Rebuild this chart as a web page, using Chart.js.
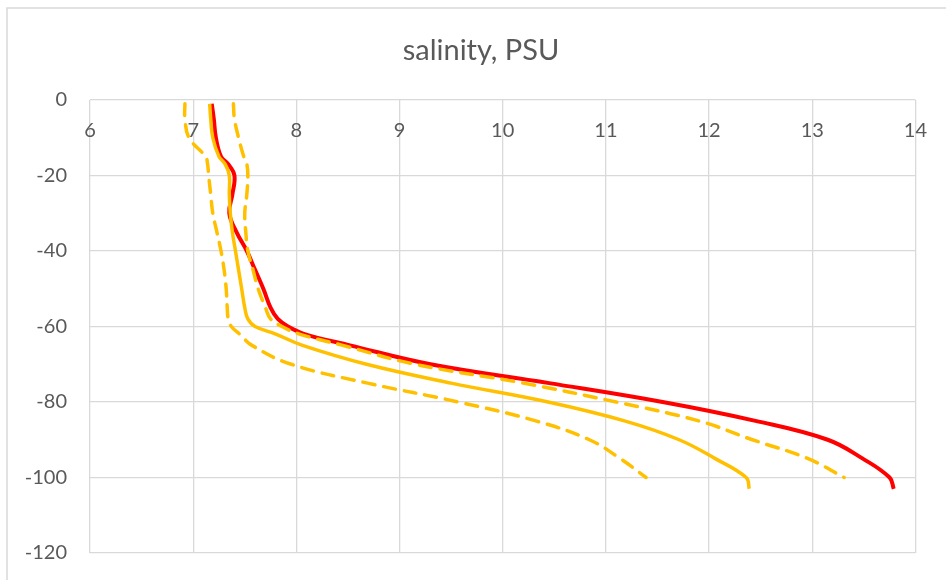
<!DOCTYPE html>
<html>
<head>
<meta charset="utf-8">
<script src="https://cdn.jsdelivr.net/npm/chart.js@4/dist/chart.umd.min.js"></script>
<style>
  html, body { margin: 0; padding: 0; background: #fff; }
  #wrap { width: 946px; height: 580px; }
</style>
</head>
<body>
<div id="wrap"><canvas id="myChart" width="946" height="580"></canvas></div>
<script>
// depth levels (m, negative downwards)
var depths = [-1, -5, -10, -15, -17, -20, -25, -30, -35, -40, -45, -50, -55, -58, -60, -62, -65, -70, -75, -80, -85, -90, -95, -100, -103];

// salinity (PSU) at each depth; null = no value
var salRed    = [7.18, 7.20, 7.22, 7.27, 7.34, 7.40, 7.38, 7.35, 7.42, 7.52, 7.60, 7.68, 7.75, 7.82, 7.92, 8.08, 8.52, 9.30, 10.45, 11.55, 12.45, 13.15, 13.49, 13.75, 13.79];
var salMean   = [7.16, 7.17, 7.19, 7.25, 7.31, 7.35, 7.35, 7.36, 7.38, 7.41, 7.44, 7.47, 7.50, 7.53, 7.60, 7.80, 8.06, 8.68, 9.50, 10.44, 11.18, 11.71, 12.06, 12.36, 12.39];
var salMin    = [6.92, 6.92, 6.96, 7.12, 7.14, 7.15, 7.17, 7.19, 7.23, 7.27, 7.30, 7.32, 7.33, 7.34, 7.37, 7.45, 7.57, 7.95, 8.69, 9.57, 10.32, 10.84, 11.14, 11.39, null];
var salMax    = [7.39, 7.40, 7.44, 7.49, 7.52, 7.53, 7.52, 7.50, 7.51, 7.53, 7.58, 7.63, 7.70, 7.75, 7.86, 8.03, 8.45, 9.15, 10.20, 11.10, 11.90, 12.42, 12.96, 13.31, null];

var xTicks = [6, 7, 8, 9, 10, 11, 12, 13, 14];
var yTicks = [0, -20, -40, -60, -80, -100, -120];

function toPoints(sal) {
  var pts = [];
  for (var i = 0; i < depths.length; i++) {
    if (sal[i] !== null) pts.push({x: sal[i], y: depths[i]});
  }
  return pts;
}

var textColor = '#595959';
var gridColor = '#d9d9d9';
var fontFam = 'Lato, "Open Sans", sans-serif';

// light frame around the chart (left and top edges are visible)
var framePlugin = {
  id: 'frame',
  beforeDraw: function (chart) {
    var c = chart.ctx;
    c.save();
    c.strokeStyle = gridColor;
    c.lineWidth = 1.5;
    c.beginPath();
    c.moveTo(7, chart.height);
    c.lineTo(7, 8);
    c.lineTo(chart.width, 8);
    c.stroke();
    c.restore();
  }
};

var ctx = document.getElementById('myChart').getContext('2d');
var chart = new Chart(ctx, {
    type: 'scatter',
    data: {
        datasets: [{
            label: 'max',
            data: toPoints(salMax),
            showLine: true,
            borderColor: '#FFC000',
            borderWidth: 3.5,
            borderDash: [12, 9],
            borderCapStyle: 'round',
            pointRadius: 0,
            tension: 0.4
        }, {
            label: 'min',
            data: toPoints(salMin),
            showLine: true,
            borderColor: '#FFC000',
            borderWidth: 3.5,
            borderDash: [12, 9],
            borderCapStyle: 'round',
            pointRadius: 0,
            tension: 0.4
        }, {
            label: 'mean',
            data: toPoints(salMean),
            showLine: true,
            borderColor: '#FFC000',
            borderWidth: 3.5,
            pointRadius: 0,
            tension: 0.4
        }, {
            label: 'salinity',
            data: toPoints(salRed),
            showLine: true,
            borderColor: '#FF0000',
            borderWidth: 4,
            pointRadius: 0,
            tension: 0.4
        }]
    },
    options: {
        responsive: false,
        animation: false,
        layout: { padding: { top: 0, right: 0, bottom: 27, left: 16 } },
        plugins: {
            legend: { display: false },
            tooltip: { enabled: false },
            title: {
                display: true,
                text: 'salinity, PSU',
                color: textColor,
                font: { family: fontFam, size: 29, weight: 'normal' },
                padding: { top: 33, bottom: 0 }
            }
        },
        scales: {
            x: {
                type: 'linear',
                position: 'top',
                min: 6,
                max: 14,
                afterBuildTicks: function (s) { s.ticks = xTicks.map(function (v) { return {value: v}; }); },
                afterFit: function (s) { s.height = 32.2; },
                grid: { color: gridColor, lineWidth: 1.3, drawTicks: false },
                border: { display: false },
                ticks: {
                    mirror: true,
                    padding: 19,
                    color: textColor,
                    font: { family: fontFam, size: 20 },
                    maxRotation: 0
                }
            },
            y: {
                type: 'linear',
                min: -120,
                max: 0,
                afterBuildTicks: function (s) { s.ticks = yTicks.map(function (v) { return {value: v}; }); },
                afterFit: function (s) { s.width = 74; s.paddingTop = 0; s.paddingBottom = 0; },
                grid: { color: gridColor, lineWidth: 1.3, drawTicks: false },
                border: { display: false },
                ticks: {
                    padding: 23,
                    color: textColor,
                    font: { family: fontFam, size: 20 }
                }
            },
            // empty strip on the right so the plot ends at 14 like the original
            yRight: {
                type: 'linear',
                position: 'right',
                min: -120,
                max: 0,
                afterFit: function (s) { s.width = 29; },
                grid: { display: false },
                border: { display: false },
                ticks: { display: false }
            }
        }
    },
    plugins: [framePlugin]
});
</script>
</body>
</html>
